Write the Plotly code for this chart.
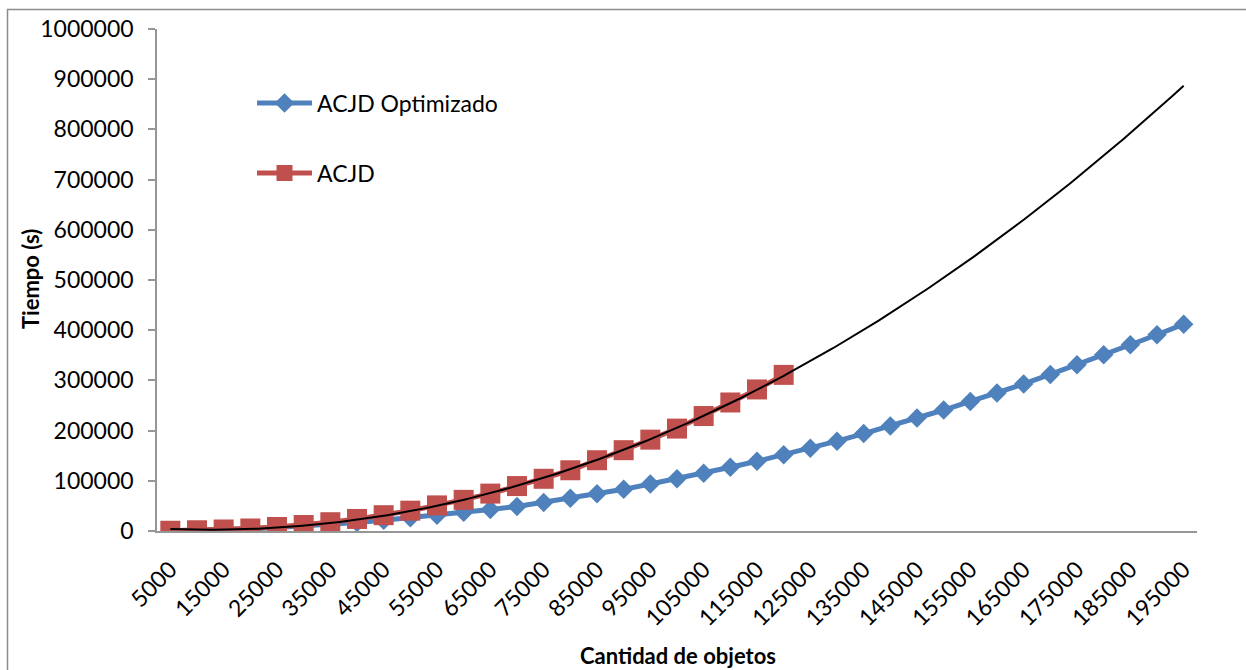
import numpy as np
import plotly.graph_objects as go

# Data
cantidad = list(range(5000, 200000, 5000))  # 5000 .. 195000
acjd_optimizado = [300, 1200, 2500, 4400, 6900, 9800, 13000, 17000, 21500, 26500,
                   31500, 37500, 43000, 49000, 57000, 65000, 74000, 83000, 93500, 104000,
                   115000, 127000, 139000, 152000, 165000, 179000, 194000, 209000, 225000, 241000,
                   258000, 275000, 293000, 312000, 331000, 351000, 371000, 391000, 412000]
acjd = [500, 1500, 3000, 5000, 8000, 12000, 17500, 24000, 31500, 40500,
        51000, 62000, 74500, 89500, 104000, 121000, 141000, 161000, 182000, 204000,
        229000, 256000, 282000, 311000]
acjd_x = cantidad[:len(acjd)]
tick_vals = list(range(5000, 200000, 10000))
tick_text = [str(v) for v in tick_vals]
y_ticks = list(range(0, 1000001, 100000))

# Polynomial (order 2) trendline of ACJD, extended over all categories (as Excel does)
coef = np.polyfit(np.array(acjd_x, dtype=float), np.array(acjd, dtype=float), 2)
trend_x = np.linspace(cantidad[0], cantidad[-1], 300)
trend_y = np.polyval(coef, trend_x)

BLUE = "#4F81BD"
RED = "#C0504D"
FONT = "Lato"

fig = go.Figure()
fig.add_trace(go.Scatter(
    x=cantidad, y=acjd_optimizado, name="ACJD Optimizado", mode="lines+markers",
    line=dict(color=BLUE, width=5),
    marker=dict(symbol="diamond", size=15, color=BLUE),
    legend="legend"))
fig.add_trace(go.Scatter(
    x=acjd_x, y=acjd, name="ACJD", mode="lines+markers",
    line=dict(color=RED, width=5),
    marker=dict(symbol="square", size=20, color=RED),
    legend="legend2"))
fig.add_trace(go.Scatter(
    x=trend_x, y=trend_y, name="Polinómica (ACJD)", mode="lines",
    line=dict(color="black", width=2), showlegend=False, hoverinfo="skip"))

L, R, T, B = 157, 49, 29, 139
W, H = 1246, 670
pw, ph = W - L - R, H - T - B

def px_x(p):
    return (p - L) / pw

def px_y(p):
    return (H - B - p) / ph

fig.update_layout(
    width=W, height=H,
    margin=dict(l=L, r=R, t=T, b=B),
    paper_bgcolor="white", plot_bgcolor="white",
    font=dict(family=FONT, size=23, color="black"),
    xaxis=dict(
        range=[2500, 197500], tickmode="array", tickvals=tick_vals, ticktext=tick_text,
        tickangle=-45, showgrid=False, zeroline=False,
        showline=True, linecolor="#969696", linewidth=1.5, ticks="",
        ticklabelstandoff=14,
        tickfont=dict(family=FONT, size=23, color="black"),
    ),
    yaxis=dict(
        range=[0, 1000000], tickmode="array", tickvals=y_ticks,
        ticktext=[str(v) for v in y_ticks],
        showgrid=False, zeroline=False,
        showline=True, linecolor="#969696", linewidth=1.5,
        ticks="outside", ticklen=7, tickcolor="#969696", tickwidth=1.5,
        ticklabelstandoff=10,
        tickfont=dict(family=FONT, size=23, color="black"),
    ),
    annotations=[
        dict(text="<b>Cantidad de objetos</b>", xref="paper", yref="paper",
             x=px_x(678), y=px_y(655), xanchor="center", yanchor="middle",
             showarrow=False, font=dict(family=FONT, size=22, color="black")),
        dict(text="<b>Tiempo (s)</b>", xref="paper", yref="paper",
             x=px_x(30), y=px_y(279), xanchor="center", yanchor="middle", textangle=-90,
             showarrow=False, font=dict(family=FONT, size=22, color="black")),
    ],
    legend=dict(x=px_x(252), y=px_y(103), xanchor="left", yanchor="middle",
                bgcolor="rgba(0,0,0,0)", font=dict(family=FONT, size=23, color="black"),
                itemwidth=55),
    legend2=dict(x=px_x(252), y=px_y(173), xanchor="left", yanchor="middle",
                 bgcolor="rgba(0,0,0,0)", font=dict(family=FONT, size=23, color="black"),
                 itemwidth=55),
    showlegend=True,
    shapes=[dict(type="rect", xref="paper", yref="paper",
                 x0=px_x(7.5), x1=px_x(1260), y0=px_y(700), y1=px_y(9.5),
                 line=dict(color="#8c8c8c", width=1.5), fillcolor="rgba(0,0,0,0)", layer="below")],
)

fig.write_html("out.html", config={"displayModeBar": False},
               post_script="document.body.style.margin='0';")
